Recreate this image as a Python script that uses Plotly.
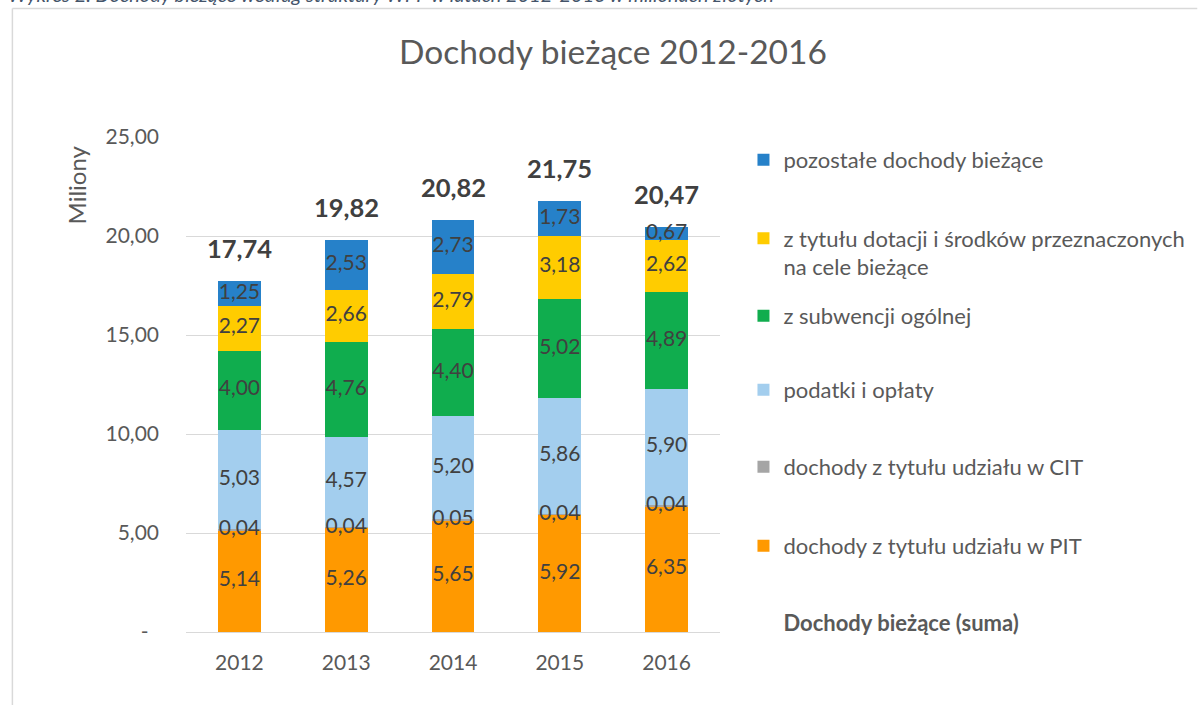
import plotly.graph_objects as go

years = ["2012", "2013", "2014", "2015", "2016"]
pit = [5.14, 5.26, 5.65, 5.92, 6.35]
cit = [0.04, 0.04, 0.05, 0.04, 0.04]
podatki = [5.03, 4.57, 5.20, 5.86, 5.90]
subwencja = [4.00, 4.76, 4.40, 5.02, 4.89]
dotacje = [2.27, 2.66, 2.79, 3.18, 2.62]
pozostale = [1.25, 2.53, 2.73, 1.73, 0.67]
totals = [17.74, 19.82, 20.82, 21.75, 20.47]

names = [
    "dochody z tytułu udziału w PIT",
    "dochody z tytułu udziału w CIT",
    "podatki i opłaty",
    "z subwencji ogólnej",
    "z tytułu dotacji i środków przeznaczonych<br>na cele bieżące",
    "pozostałe dochody bieżące",
]
series = [pit, cit, podatki, subwencja, dotacje, pozostale]
colors = ["#FF9900", "#A5A5A5", "#A3CEEE", "#10AD4E", "#FFCC00", "#2681C9"]
total_name = "<b>Dochody bieżące (suma)</b>"

yticks = [0, 5, 10, 15, 20, 25]
yticktext = ["-\u2002", "5,00", "10,00", "15,00", "20,00", "25,00"]

FONT = "Lato"
W, H = 1202, 705
ML, MR, MT, MB = 186, 470, 137, 73
PW = W - ML - MR
PH = H - MT - MB


def px_x(px):
    return (px - ML) / PW


def px_y(py):
    return (H - MB - py) / PH


def fmt(v):
    return f"{v:.2f}".replace(".", ",")


fig = go.Figure()

legend_keys = ["legend6", "legend5", "legend4", "legend3", "legend2", "legend"]
base = [0.0] * len(years)
for vals, name, col, lk in zip(series, names, colors, legend_keys):
    fig.add_trace(go.Bar(
        x=years, y=vals, name=name, marker=dict(color=col, line=dict(width=0)),
        legend=lk, hoverinfo="x+y+name",
    ))
    mids = [b + v / 2 for b, v in zip(base, vals)]
    fig.add_trace(go.Scatter(
        x=years, y=mids, mode="text", text=[fmt(v) for v in vals],
        textposition="middle center", showlegend=False, hoverinfo="skip",
        textfont=dict(family=FONT, size=21, color="#404040"),
    ))
    base = [b + v for b, v in zip(base, vals)]

fig.add_trace(go.Scatter(
    x=years, y=totals, mode="lines", line=dict(width=0, color="rgba(0,0,0,0)"),
    name=total_name, legend="legend7", hoverinfo="skip",
))

for i, t in enumerate(totals):
    fig.add_annotation(
        x=i, y=t, xref="x", yref="y", text=f"<b>{fmt(t)}</b>", showarrow=False,
        yshift=33, font=dict(family=FONT, size=25.5, color="#404040"),
    )

# legend positions (item centers in px)
leg_centers = {
    "legend": 160, "legend2": 253, "legend3": 316, "legend4": 390,
    "legend5": 467, "legend6": 546, "legend7": 623,
}
legend_x = px_x(756)
layout_legends = {}
for key, cy in leg_centers.items():
    layout_legends[key] = dict(
        x=legend_x, y=px_y(cy), xanchor="left", yanchor="middle",
        font=dict(family=FONT, size=22, color="#595959"),
        bgcolor="rgba(0,0,0,0)", itemwidth=30, valign="top",
        itemclick=False, itemdoubleclick=False,
    )

fig.update_layout(
    width=W, height=H,
    margin=dict(l=ML, r=MR, t=MT, b=MB),
    paper_bgcolor="white", plot_bgcolor="white",
    barmode="stack", bargap=0.6,
    title=dict(text="Dochody bieżące 2012-2016", x=613 / W, xanchor="center",
               y=1 - 52 / H, yanchor="middle", xref="container", yref="container",
               font=dict(family=FONT, size=33.5, color="#595959")),
    font=dict(family=FONT, color="#595959"),
    xaxis=dict(type="category", range=[-0.5, len(years) - 0.5], autorange=False,
               showgrid=False, ticks="", showline=False, zeroline=False,
               tickfont=dict(family=FONT, size=21, color="#595959"),
               ticklabelstandoff=16),
    yaxis=dict(range=[0, 25], autorange=False, tickvals=yticks, ticktext=yticktext,
               showgrid=True, gridcolor="#D9D9D9", gridwidth=1,
               zeroline=True, zerolinecolor="#D9D9D9", zerolinewidth=1,
               showline=False, ticks="",
               tickfont=dict(family=FONT, size=21, color="#595959"),
               ticklabelstandoff=26),
    **layout_legends,
)

fig.add_annotation(
    x=px_x(75), y=px_y(185), xref="paper", yref="paper",
    text="Miliony", textangle=-90, showarrow=False,
    font=dict(family=FONT, size=24, color="#595959"),
    xanchor="center", yanchor="middle",
)

fig.add_annotation(
    x=px_x(2), y=px_y(-6), xref="paper", yref="paper", xanchor="left", yanchor="middle",
    text="<i>Wykres 2. Dochody bieżące według struktury WPF w latach 2012-2016 w milionach złotych</i>",
    showarrow=False, font=dict(family=FONT, size=20, color="#44546A"),
)

frame = "#D9D9D9"
fig.add_shape(type="line", xref="paper", yref="paper", x0=px_x(8.5), x1=px_x(8.5),
              y0=px_y(8.5), y1=px_y(720), line=dict(color=frame, width=1.5))
fig.add_shape(type="line", xref="paper", yref="paper", x0=px_x(8.5), x1=px_x(1220),
              y0=px_y(8.5), y1=px_y(8.5), line=dict(color=frame, width=1.5))

fig.write_html("out.html", config={"displayModeBar": False},
               post_script="document.body.style.margin='0';")
